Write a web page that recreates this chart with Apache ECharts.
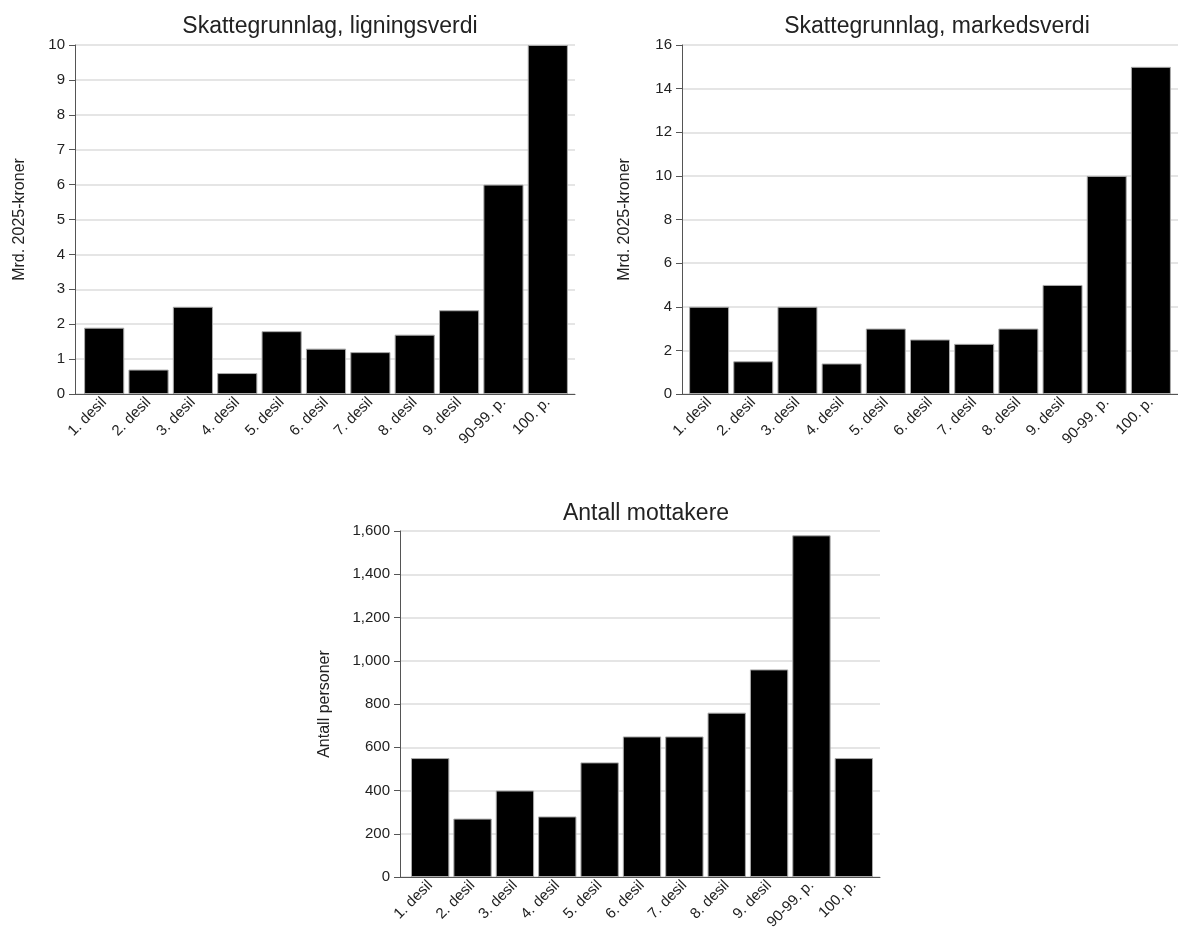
<!DOCTYPE html>
<html>
<head>
<meta charset="utf-8">
<script src="https://cdn.jsdelivr.net/npm/echarts@6/dist/echarts.min.js"></script>
<style>
html,body{margin:0;padding:0;background:#fff;}
#c{width:1178px;height:933px;}
</style>
</head>
<body>
<div id="c"></div>
<script>
const categories = ['1. desil','2. desil','3. desil','4. desil','5. desil','6. desil','7. desil','8. desil','9. desil','90-99. p.','100. p.'];
const ligningsverdi = [1.9, 0.7, 2.5, 0.6, 1.8, 1.3, 1.2, 1.7, 2.4, 6.0, 10.0];
const markedsverdi = [4.0, 1.5, 4.0, 1.4, 3.0, 2.5, 2.3, 3.0, 5.0, 10.0, 15.0];
const mottakere = [550, 270, 400, 280, 530, 650, 650, 760, 960, 1580, 550];
const titles = ['Skattegrunnlag, ligningsverdi', 'Skattegrunnlag, markedsverdi', 'Antall mottakere'];
const yNames = ['Mrd. 2025-kroner', 'Mrd. 2025-kroner', 'Antall personer'];
const yMax = [10, 16, 1600];
const yInterval = [1, 2, 200];

const FONT = 'Liberation Sans, Arial, sans-serif';
// layout: [left, top, width, height, innerLeft, innerWidth, nameGap, titleCenterX, titleTop]
const layout = [
  [75, 45, 500, 349, 82, 488, 47, 325, 10],
  [682, 45, 500, 349, 687, 486, 49, 932, 10],
  [400, 531, 480, 346, 409, 466, 67, 641, 497]
];
const seriesData = [ligningsverdi, markedsverdi, mottakere];

const grid = [], xAxis = [], yAxis = [], series = [], title = [];
layout.forEach((L, i) => {
  const [left, top, width, height, innerLeft, innerWidth, nameGap, tcx, ttop] = L;
  grid.push({left: left, top: top, width: width, height: height, containLabel: false});
  grid.push({left: innerLeft, top: top, width: innerWidth, height: height, containLabel: false});
  const gFull = i * 2, gBars = i * 2 + 1;
  xAxis.push({
    type: 'category', gridIndex: gFull, data: categories,
    axisLine: {show: true, lineStyle: {color: '#555', width: 1}},
    axisTick: {show: false}, axisLabel: {show: false}, splitLine: {show: false}
  });
  xAxis.push({
    type: 'category', gridIndex: gBars, data: categories,
    axisLine: {show: false}, axisTick: {show: false},
    axisLabel: {rotate: 45, fontSize: 15, color: '#222', fontFamily: FONT, margin: 6, interval: 0},
    splitLine: {show: false}
  });
  yAxis.push({
    type: 'value', gridIndex: gFull, min: 0, max: yMax[i], interval: yInterval[i],
    name: yNames[i], nameLocation: 'middle', nameGap: nameGap,
    nameTextStyle: {fontSize: 16, color: '#222', fontFamily: FONT},
    axisLine: {show: true, lineStyle: {color: '#555', width: 1}},
    axisTick: {show: true, length: 6, lineStyle: {color: '#555'}},
    axisLabel: {fontSize: 15, color: '#222', fontFamily: FONT, margin: 10},
    splitLine: {show: true, lineStyle: {color: '#dcdcdc', width: 1.5}}
  });
  yAxis.push({
    type: 'value', gridIndex: gBars, min: 0, max: yMax[i], interval: yInterval[i], show: false,
    splitLine: {show: false}
  });
  series.push({
    type: 'bar', xAxisIndex: gBars, yAxisIndex: gBars, data: seriesData[i],
    barCategoryGap: '9.5%',
    itemStyle: {color: '#000', borderColor: '#aaa', borderWidth: 1},
    silent: true, animation: false
  });
  title.push({
    text: titles[i], left: tcx, top: ttop, textAlign: 'center',
    textStyle: {fontSize: 23, fontWeight: 'normal', color: '#222', fontFamily: FONT}
  });
});

const chart = echarts.init(document.getElementById('c'), null, {renderer: 'canvas'});
chart.setOption({
  animation: false,
  backgroundColor: '#fff',
  title: title, grid: grid, xAxis: xAxis, yAxis: yAxis, series: series
});
</script>
</body>
</html>
